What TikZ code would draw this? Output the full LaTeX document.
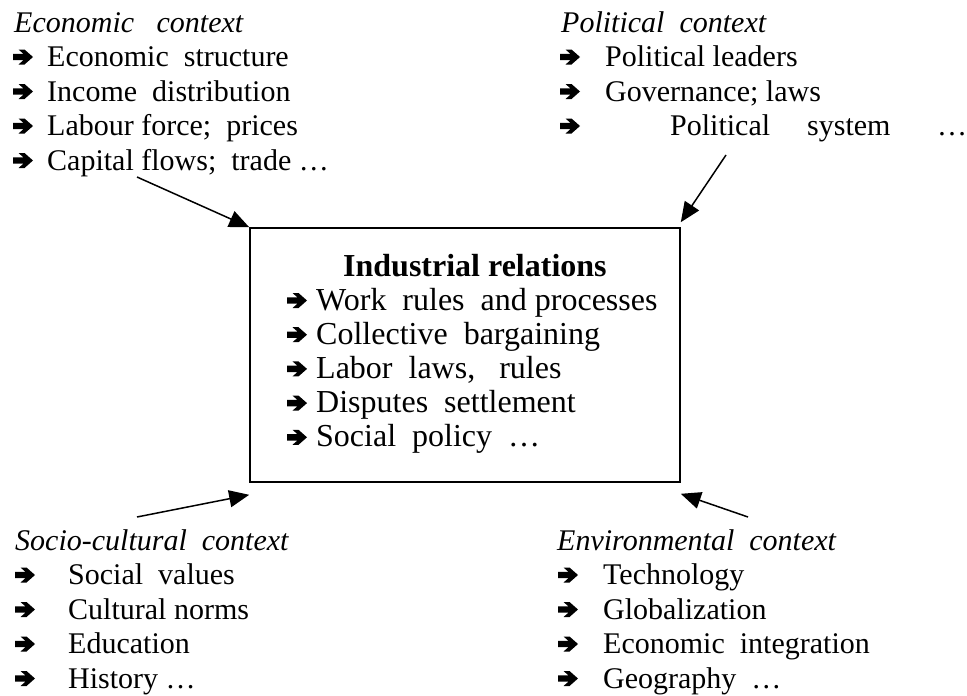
\documentclass[tikz,border=0pt]{standalone}
\usepackage{fontspec}
\setmainfont{Liberation Serif}
\usetikzlibrary{arrows.meta,calc}
\begin{document}
\begin{tikzpicture}[x=1pt,y=-1pt,
  txt/.style={anchor=base west, inner sep=0pt, font=\fontsize{30}{34.5}\selectfont},
  boxtxt/.style={anchor=base west, inner sep=0pt, font=\fontsize{32}{34.5}\selectfont},
  head/.style={txt, font=\fontsize{30}{34.5}\selectfont\itshape},
  boxhead/.style={boxtxt, font=\fontsize{32}{34.5}\selectfont\bfseries},
  frame/.style={draw, line width=1.6pt, inner sep=0pt, minimum width=430pt, minimum height=254pt},
  conn/.style={line width=1.5pt, -{Triangle[length=20pt,width=17pt]}},
  % heavy wide-headed bullet arrow, origin on the text baseline
  bullet/.pic={\fill (0,-12.7) -- (10.4,-12.7) -- (5.5,-17) -- (11.5,-17) -- (20,-9.5)
      -- (11.5,-2) -- (5.5,-2) -- (10.4,-6.3) -- (0,-6.3) -- cycle;}]
\useasboundingbox (0,0) rectangle (967,696);

% central box
\node[frame] (ir) at (465,355) {};
\node[boxhead] (ir0) at (343,276) {Industrial relations};
\foreach \y in {310,344.2,378.4,412.6,446.8} \pic at (287,\y) {bullet};
\node[boxtxt] (ir1) at (316,310)   {Work\ \ rules\ \ and processes};
\node[boxtxt] (ir2) at (316,344.2) {Collective\ \ bargaining};
\node[boxtxt] (ir3) at (316,378.4) {Labor\ \ laws,\ \ \ rules};
\node[boxtxt] (ir4) at (316,412.6) {Disputes\ \ settlement};
\node[boxtxt] (ir5) at (316,446.8) {Social\ \ policy\ \ …};

% economic context
\node[head] (eco0) at (14,32) {Economic\ \ \ context};
\foreach \y in {66.5,101,135.5,170} \pic at (13,\y) {bullet};
\node[txt] (eco1) at (47,66.5)  {Economic\ \ structure};
\node[txt] (eco2) at (47,101)   {Income\ \ distribution};
\node[txt] (eco3) at (47,135.5) {Labour force;\ \ prices};
\node[txt] (eco4) at (47,170)   {Capital flows;\ \ trade …};

% political context
\node[head] (pol0) at (561,32) {Political\ \ context};
\foreach \y in {66.5,101,135.5} \pic at (560,\y) {bullet};
\node[txt] (pol1) at (605,66.5)  {Political leaders};
\node[txt] (pol2) at (605,101)   {Governance; laws};
\node[txt] (pol3a) at (670,135.5) {Political};
\node[txt] (pol3b) at (807,135.5) {system};
\node[txt] (pol3c) at (937,135.5) {…};

% socio-cultural context
\node[head] (soc0) at (15,550) {Socio-cultural\ \ context};
\foreach \y in {584.5,619,653.5,688} \pic at (15,\y) {bullet};
\node[txt] (soc1) at (68,584.5) {Social\ \ values};
\node[txt] (soc2) at (68,619)   {Cultural norms};
\node[txt] (soc3) at (68,653.5) {Education};
\node[txt] (soc4) at (68,688)   {History …};

% environmental context
\node[head] (env0) at (557,550) {Environmental\ \ context};
\foreach \y in {584.5,619,653.5,688} \pic at (558,\y) {bullet};
\node[txt] (env1) at (603,584.5) {Technology};
\node[txt] (env2) at (603,619)   {Globalization};
\node[txt] (env3) at (603,653.5) {Economic\ \ integration};
\node[txt] (env4) at (603,688)   {Geography\ \ …};

% influence arrows into the box
\coordinate (ecotail) at (137,177);
\coordinate (poltail) at (726,155);
\coordinate (soctail) at (137,517);
\coordinate (envtail) at (748,517);
\draw[conn] (ecotail) -- (ir.north west);
\draw[conn] (poltail) -- ($(ir.north east)+(0,-5)$);
\draw[conn] (soctail) -- ($(ir.south west)+(0,12)$);
\draw[conn] (envtail) -- ($(ir.south east)+(0,11)$);
\end{tikzpicture}
\end{document}
